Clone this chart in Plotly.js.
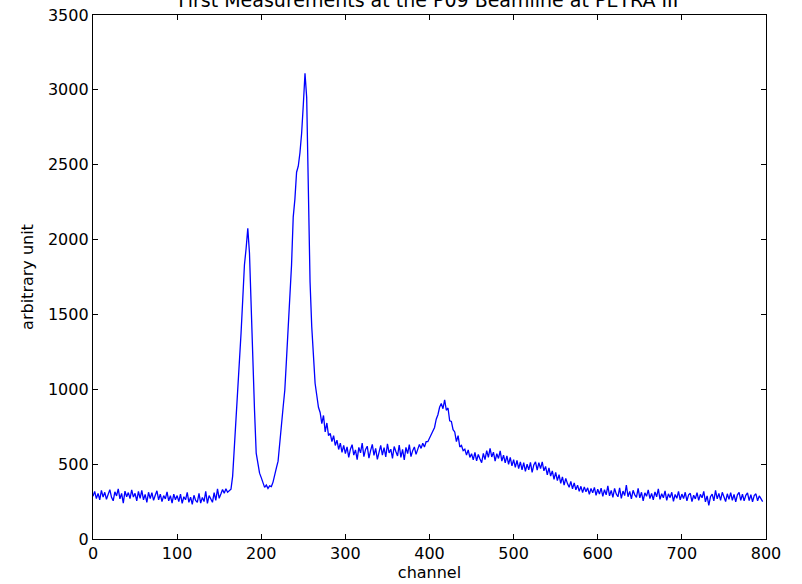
<!DOCTYPE html>
<html>
<head>
<meta charset="utf-8">
<script src="https://cdn.plot.ly/plotly-3.0.1.min.js"></script>
<style>html,body{margin:0;padding:0;background:#fff;}#chart{width:802px;height:584px;}</style>
</head>
<body>
<div id="chart"></div>
<script>
// Spectrum, channels 0..796 every 2 channels (first channel 0, step 2)
var channelStart = 0;
var channelStep = 2;
var counts = [
  // ch 0-48
  285, 318, 270, 305, 262, 325, 280, 312, 265, 300, 330, 278, 255, 315, 288, 335, 268, 305, 240, 320, 282, 310, 270, 328, 280,
  // ch 50-98
  305, 255, 318, 272, 325, 262, 298, 245, 312, 270, 310, 258, 292, 322, 262, 300, 250, 290, 268, 315, 255, 290, 240, 300, 262,
  // ch 100-150
  290, 250, 300, 238, 282, 262, 312, 245, 280, 232, 292, 258, 245, 305, 240, 278, 250, 318, 238, 290, 262, 245, 310, 258, 335, 272,
  // ch 152-164
  300, 330, 305, 335, 312, 325, 332,
  // ch 166-198
  420, 600, 790, 1015, 1210, 1376, 1600, 1830, 1940, 2075, 1910, 1530, 1196, 860, 574, 490, 440,
  // ch 200-234
  410, 375, 345, 360, 338, 355, 350, 380, 440, 475, 520, 620, 760, 880, 995, 1200, 1390, 1610,
  // ch 236-268
  1830, 2150, 2270, 2450, 2490, 2580, 2710, 2900, 3110, 2950, 2250, 1720, 1420, 1190, 1040, 960, 880,
  // ch 270-298
  845, 770, 825, 715, 775, 690, 705, 650, 690, 625, 660, 598, 640, 578, 625,
  // ch 300-396
  570, 615, 545, 600, 630, 560, 595, 530, 612, 575, 640, 550, 598, 620, 540, 590, 632, 558, 605, 532,
  592, 625, 560, 610, 548, 635, 575, 600, 538, 618, 585, 555, 628, 545, 598, 528, 612, 570, 630, 550,
  590, 615, 565, 600, 632, 605, 640, 615, 650,
  // ch 398-436
  650, 672, 690, 715, 745, 800, 830, 880, 905, 870, 930, 860, 875, 790, 785, 730, 715, 650, 690, 615,
  // ch 438-476
  625, 590, 600, 560, 595, 545, 570, 528, 578, 522, 565, 535, 510, 572, 530, 590, 545, 605, 548, 580,
  // ch 478-516
  520, 570, 538, 588, 520, 560, 508, 555, 498, 545, 488, 530, 478, 525, 470, 515, 462, 510, 452, 500,
  // ch 518-556
  462, 512, 445, 495, 515, 460, 510, 470, 515, 455, 485, 428, 475, 420, 455, 398, 445, 390, 430, 372,
  // ch 558-600
  415, 360, 405, 370, 345, 385, 335, 375, 328, 360, 318, 352, 310, 348, 315, 342, 298, 338, 308, 345, 292, 332,
  // ch 602-640
  300, 340, 285, 330, 295, 355, 288, 325, 278, 338, 300, 282, 342, 272, 320, 290, 360, 282, 318, 268,
  // ch 642-680
  325, 295, 278, 338, 275, 312, 255, 308, 285, 328, 270, 305, 262, 315, 282, 335, 265, 302, 275, 322,
  // ch 682-720
  258, 302, 276, 312, 252, 298, 272, 318, 262, 300, 270, 312, 255, 295, 305, 250, 292, 268, 310, 258,
  // ch 722-760
  298, 275, 318, 248, 288, 225, 282, 300, 255, 325, 268, 305, 258, 312, 272, 250, 302, 265, 310, 258,
  // ch 762-796
  298, 248, 295, 312, 258, 300, 255, 292, 308, 256, 296, 248, 290, 302, 255, 288, 270, 250
];

var titleText = 'First Measurements at the P09 Beamline at PETRA III';
var xTitle = 'channel';
var yTitle = 'arbitrary unit';

var trace = {
  type: 'scatter',
  mode: 'lines',
  x0: channelStart,
  dx: channelStep,
  y: counts,
  line: {color: '#0000ff', width: 1.3},
  hoverinfo: 'skip'
};

var axisCommon = {
  showgrid: false,
  zeroline: false,
  showline: true,
  linecolor: '#000',
  linewidth: 1.2,
  mirror: 'allticks',
  ticks: 'inside',
  ticklen: 5,
  tickwidth: 1,
  tickcolor: '#000',
  tickfont: {family: 'DejaVu Sans', size: 16, color: '#000'}
};

var layout = {
  width: 802,
  height: 584,
  margin: {l: 93, r: 36, t: 15, b: 45},
  paper_bgcolor: '#fff',
  plot_bgcolor: '#fff',
  showlegend: false,
  font: {family: 'DejaVu Sans', color: '#000'},
  title: {
    text: titleText,
    font: {family: 'DejaVu Sans', size: 19, color: '#000'},
    x: 0.534, xanchor: 'center',
    y: 1.0, yref: 'container', yanchor: 'middle'
  },
  xaxis: Object.assign({}, axisCommon, {
    range: [0, 800],
    tick0: 0, dtick: 100,
    title: {text: xTitle, font: {family: 'DejaVu Sans', size: 16, color: '#000'}, standoff: 2}
  }),
  yaxis: Object.assign({}, axisCommon, {
    range: [0, 3500],
    tick0: 0, dtick: 500,
    title: {text: yTitle, font: {family: 'DejaVu Sans', size: 16, color: '#000'}, standoff: 10}
  })
};

Plotly.newPlot('chart', [trace], layout, {displayModeBar: false, staticPlot: true});
</script>
</body>
</html>
